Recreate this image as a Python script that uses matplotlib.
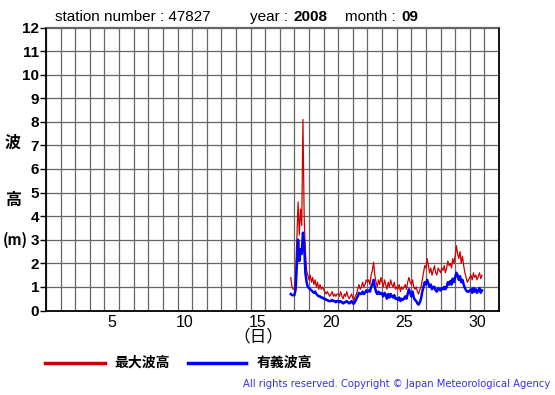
import matplotlib
matplotlib.use("Agg")
import matplotlib.pyplot as plt
import numpy as np
import pandas as pd

# ---- data (2-hourly readings, Sep 17 18:00 -> Sep 30 20:00) ----
start_time = "2008-09-17 18:00"
max_wave = [
    1.4, 1.0, 0.9,
    0.9, 1.5, 3.0, 4.6, 3.2, 4.3, 3.6, 8.1, 4.0, 2.5, 1.7, 1.5,
    1.3, 1.5, 1.2, 1.4, 1.1, 1.3, 1.0, 1.2, 0.9, 1.1, 0.9, 1.0,
    0.9, 0.8, 0.7, 0.8, 0.7, 0.6, 0.7, 0.8, 0.6, 0.7, 0.6, 0.7,
    0.7, 0.6, 0.8, 0.6, 0.5, 0.7, 0.6, 0.8, 0.6, 0.5, 0.6, 0.7,
    0.5, 0.45, 0.6, 0.7, 0.9, 1.1, 0.9, 1.0, 1.2, 1.0, 1.1, 1.3,
    1.2, 1.3, 1.1, 1.5, 1.7, 2.05, 1.5, 1.2, 1.0, 1.3, 1.1, 1.4,
    1.2, 1.0, 1.3, 1.1, 0.9, 1.2, 1.0, 1.3, 1.1, 1.0, 1.2, 0.9,
    1.0, 0.9, 1.1, 0.8, 1.0, 0.9, 1.0, 1.1, 0.9, 1.2, 1.4, 1.2,
    1.1, 1.3, 1.0, 0.9, 1.0, 0.8, 0.7, 0.9, 1.0, 1.3, 1.6, 1.9,
    1.8, 2.2, 1.9, 1.6, 1.8, 1.5, 1.7, 1.9, 1.6, 1.5, 1.8, 1.7,
    1.6, 1.8, 1.7, 1.9, 1.6, 1.8, 2.1, 1.9, 2.0, 1.8, 2.2, 2.0,
    2.3, 2.75, 2.4, 2.2, 2.5, 2.0, 2.3, 1.9, 1.6, 1.4, 1.2, 1.3,
    1.4, 1.5, 1.3, 1.6, 1.4, 1.5, 1.3, 1.45, 1.6, 1.35, 1.5,
]
sig_wave = [
    0.7, 0.65, 0.65,
    0.65, 0.9, 2.0, 3.0, 2.1, 2.6, 2.4, 3.3, 2.8, 1.6, 1.2, 1.0,
    0.95, 0.9, 0.85, 0.8, 0.75, 0.8, 0.7, 0.65, 0.6, 0.6, 0.55, 0.55,
    0.5, 0.5, 0.45, 0.45, 0.4, 0.4, 0.4, 0.45, 0.4, 0.4, 0.35, 0.4,
    0.4, 0.35, 0.4, 0.35, 0.3, 0.35, 0.35, 0.4, 0.35, 0.3, 0.35, 0.4,
    0.3, 0.3, 0.4, 0.5, 0.6, 0.75, 0.7, 0.7, 0.8, 0.7, 0.75, 0.85,
    0.8, 0.85, 0.8, 1.0, 1.1, 1.3, 1.0, 0.8, 0.7, 0.8, 0.7, 0.75,
    0.7, 0.6, 0.75, 0.65, 0.5, 0.7, 0.55, 0.7, 0.6, 0.55, 0.65, 0.5,
    0.5, 0.45, 0.55, 0.4, 0.5, 0.45, 0.5, 0.6, 0.5, 0.7, 0.9, 0.75,
    0.6, 0.8, 0.55, 0.45, 0.4, 0.3, 0.25, 0.35, 0.5, 0.8, 1.0, 1.2,
    1.1, 1.3, 1.15, 1.0, 1.1, 0.9, 1.0, 1.0, 0.85, 0.8, 0.95, 0.9,
    0.85, 0.95, 0.9, 1.0, 0.9, 1.0, 1.2, 1.1, 1.25, 1.1, 1.35, 1.2,
    1.4, 1.6, 1.5, 1.3, 1.45, 1.2, 1.3, 1.1, 0.95, 0.85, 0.8, 0.8,
    0.85, 0.9, 0.75, 0.95, 0.8, 0.9, 0.75, 0.85, 0.95, 0.75, 0.85,
]
day_ticks = [5, 10, 15, 20, 25, 30]
y_ticks = list(range(0, 13))

times = pd.date_range(start_time, periods=len(max_wave), freq="2h")
x = times.day + times.hour / 24.0 + times.minute / 1440.0

plt.rcParams['font.family'] = ['Liberation Sans', 'Noto Sans CJK JP', 'DejaVu Sans']
CJK = ['Noto Sans CJK JP', 'DejaVu Sans']

fig = plt.figure(figsize=(5.55, 3.95), dpi=100)
W, H = 555, 395
ax = fig.add_axes([46 / W, (H - 310.5) / H, 453 / W, 283 / H])

ax.plot(x, max_wave, color="#cc0000", lw=0.9, zorder=3)
ax.plot(x, sig_wave, color="#0000ff", lw=1.8, zorder=4)

ax.set_xlim(1, 32)
ax.set_ylim(0, 12)
ax.set_xticks(np.arange(1, 33), minor=True)
ax.set_xticks([d + 0.5 for d in day_ticks])
ax.set_xticklabels([str(d) for d in day_ticks], fontsize=11.5)
ax.set_yticks(y_ticks)
ax.set_yticklabels([str(v) for v in y_ticks], fontsize=11, fontweight="bold")
ax.tick_params(axis="x", which="both", length=0, pad=3)
ax.tick_params(axis="y", length=4, width=1, pad=1, color="black")
ax.grid(which="minor", axis="x", color="#666666", lw=0.9)
ax.grid(which="major", axis="y", color="#666666", lw=0.9)
ax.set_axisbelow(True)
for s in ax.spines.values():
    s.set_color("black")
    s.set_linewidth(1.3)
ax.spines["top"].set_color("#666666")
ax.spines["top"].set_linewidth(0.9)

def ftxt(px, py, s, **kw):
    fig.text(px / W, 1 - py / H, s, **kw)

# title
ftxt(55, 17, "station number : 47827", fontsize=11, va="center", ha="left")
ftxt(250, 17, "year :", fontsize=11, va="center", ha="left")
ftxt(294, 17, "2008", fontsize=11, va="center", ha="left", fontweight="bold")
ftxt(345, 17, "month :", fontsize=11, va="center", ha="left")
ftxt(401, 17, "09", fontsize=11, va="center", ha="left", fontweight="bold")

# y label
ftxt(13, 143, "波", fontsize=11.5, va="center", ha="center", fontweight="bold", family=CJK)
ftxt(13, 200, "高", fontsize=11.5, va="center", ha="center", fontweight="bold", family=CJK)
ftxt(15, 240, "(m)", fontsize=10.5, va="center", ha="center", fontweight="bold", family=CJK)

# x label
ftxt(258, 337, "（日）", fontsize=12, va="center", ha="center", family=CJK)

# legend
fig.add_artist(plt.Line2D([45 / W, 105 / W], [1 - 363 / H] * 2, color="#cc0000", lw=2.5))
ftxt(114, 363, "最大波高", fontsize=10, va="center", ha="left", fontweight="bold", family=CJK)
fig.add_artist(plt.Line2D([188 / W, 246 / W], [1 - 363 / H] * 2, color="#0000ff", lw=2.5))
ftxt(257, 363, "有義波高", fontsize=10, va="center", ha="left", fontweight="bold", family=CJK)

# copyright
ftxt(550, 384, "All rights reserved. Copyright © Japan Meteorological Agency",
     fontsize=7.2, va="center", ha="right", color="#3333ee", family="DejaVu Sans")

fig.savefig("out.png", dpi=100)
